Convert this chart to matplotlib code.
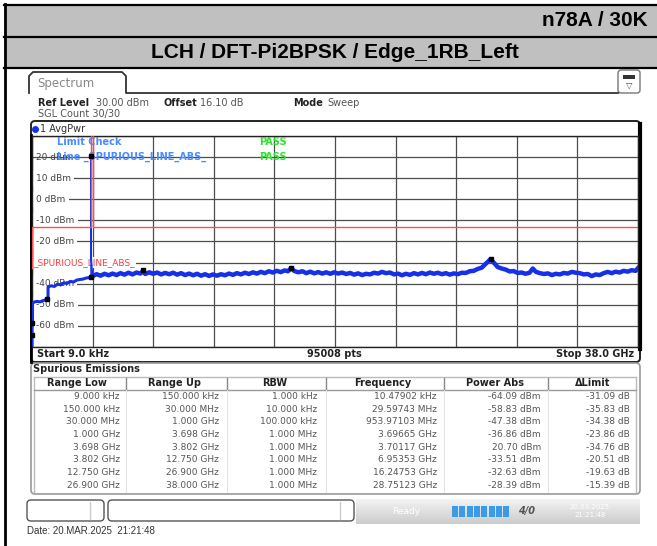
import numpy as np
import matplotlib
matplotlib.use('Agg')
import matplotlib.pyplot as plt
from matplotlib.patches import Rectangle, FancyBboxPatch
from matplotlib.transforms import blended_transform_factory

W, H = 657, 546

title_top = 'n78A / 30K'
title_sub = 'LCH / DFT-Pi2BPSK / Edge_1RB_Left'

# low band part of the trace (GHz, dBm)
low_f = [0.000009, 0.00001, 0.0001, 0.03, 0.031, 0.1, 0.3, 0.5, 0.7, 0.954, 1.0, 1.01,
         1.2, 1.4, 1.6, 1.8, 2.0, 2.2, 2.4, 2.6, 2.8, 3.0, 3.2, 3.4, 3.6, 3.697]
low_p = [-69.0, -64.1, -61.0, -58.8, -49.5, -48.8, -48.4, -48.6, -48.0, -47.4, -47.6, -41.5,
         -41.0, -41.3, -40.2, -40.6, -39.6, -39.9, -38.9, -39.2, -38.3, -38.0, -37.8, -37.3,
         -37.1, -36.9]

# carrier spike
carrier_f = [3.697, 3.701, 3.703, 3.80]
carrier_p = [-36.9, 20.7, -26.0, -36.4]

# rest of the trace, 3.8 .. 38 GHz (GHz, dBm)
band_trace = [
    (3.80, -36.4), (4.05, -35.5), (4.30, -36.2), (4.55, -35.3), (4.80, -36.0),
    (5.05, -35.2), (5.30, -35.9), (5.55, -35.0), (5.80, -35.7), (6.05, -34.8),
    (6.30, -35.6), (6.55, -34.7), (6.80, -35.2), (6.95, -34.0), (7.10, -35.4),
    (7.35, -34.6), (7.60, -35.3), (7.85, -34.7), (8.10, -35.6), (8.35, -34.9),
    (8.60, -35.5), (8.85, -34.8), (9.10, -35.7), (9.35, -35.0), (9.60, -35.9),
    (9.85, -35.2), (10.10, -36.0), (10.35, -35.3), (10.60, -36.2), (10.85, -35.5),
    (11.10, -36.3), (11.35, -35.6), (11.60, -36.2), (11.85, -35.5), (12.10, -36.0),
    (12.35, -35.2), (12.60, -35.8), (12.85, -35.0), (13.10, -35.6), (13.35, -34.8),
    (13.60, -35.4), (13.85, -34.6), (14.10, -35.2), (14.35, -34.4), (14.60, -35.0),
    (14.85, -34.1), (15.10, -34.7), (15.35, -33.9), (15.60, -34.5), (15.85, -33.7),
    (16.05, -34.1), (16.25, -32.6), (16.45, -34.0), (16.70, -34.6), (16.95, -34.1),
    (17.20, -35.0), (17.45, -34.3), (17.70, -35.1), (17.95, -34.5), (18.20, -35.2),
    (18.45, -34.6), (18.70, -35.3), (18.95, -34.6), (19.20, -35.2), (19.45, -34.7),
    (19.70, -35.4), (19.95, -34.9), (20.20, -35.7), (20.45, -35.1), (20.70, -35.9),
    (20.95, -35.3), (21.20, -35.6), (21.45, -34.8), (21.70, -35.2), (21.95, -34.4),
    (22.20, -35.0), (22.45, -34.7), (22.70, -35.6), (22.95, -35.2), (23.20, -36.0),
    (23.45, -35.3), (23.70, -35.8), (23.95, -35.0), (24.20, -35.6), (24.45, -34.9),
    (24.70, -35.5), (24.95, -34.7), (25.20, -35.3), (25.45, -34.8), (25.70, -35.5),
    (25.95, -35.0), (26.20, -35.7), (26.45, -35.1), (26.70, -35.5), (26.95, -34.8),
    (27.20, -34.9), (27.45, -34.1), (27.70, -33.9), (27.95, -33.0), (28.20, -32.4),
    (28.45, -30.6), (28.75, -28.4), (29.00, -30.4), (29.20, -32.1), (29.45, -32.8),
    (29.70, -33.3), (29.95, -34.2), (30.20, -34.0), (30.45, -34.9), (30.70, -34.7),
    (30.95, -35.3), (31.20, -34.8), (31.40, -32.8), (31.60, -34.4), (31.85, -35.0),
    (32.10, -35.4), (32.35, -35.1), (32.60, -35.9), (32.85, -35.3), (33.10, -35.6),
    (33.35, -34.9), (33.60, -35.2), (33.85, -34.4), (34.10, -34.8), (34.35, -35.0),
    (34.60, -35.6), (34.85, -35.4), (35.10, -36.4), (35.35, -35.6), (35.60, -35.9),
    (35.85, -35.0), (36.10, -34.4), (36.35, -35.0), (36.60, -34.3), (36.85, -34.7),
    (37.10, -33.9), (37.35, -34.3), (37.60, -33.6), (37.85, -33.9), (38.00, -32.6),
]

# limit line steps (GHz edges, dBm)
limit_edges = [0.000009, 0.00015, 0.03, 3.698, 3.802, 38.0]
limit_vals = [-33.0, -23.0, -13.0, 55.46, -13.0]

level_ticks = [20, 10, 0, -10, -20, -40, -50, -60]

# spurious emissions table
range_low = ['9.000 kHz', '150.000 kHz', '30.000 MHz', '1.000 GHz', '3.698 GHz',
             '3.802 GHz', '12.750 GHz', '26.900 GHz']
range_up = ['150.000 kHz', '30.000 MHz', '1.000 GHz', '3.698 GHz', '3.802 GHz',
            '12.750 GHz', '26.900 GHz', '38.000 GHz']
rbw = ['1.000 kHz', '10.000 kHz', '100.000 kHz', '1.000 MHz', '1.000 MHz',
       '1.000 MHz', '1.000 MHz', '1.000 MHz']
peak_freq = ['10.47902 kHz', '29.59743 MHz', '953.97103 MHz', '3.69665 GHz',
             '3.70117 GHz', '6.95353 GHz', '16.24753 GHz', '28.75123 GHz']
power_abs = [-64.09, -58.83, -47.38, -36.86, 20.70, -33.51, -32.63, -28.39]
delta_limit = [-31.09, -35.83, -34.38, -23.86, -34.76, -20.51, -19.63, -15.39]


def to_ghz(s):
    v, unit = s.split()
    return float(v) * {'kHz': 1e-6, 'MHz': 1e-3, 'GHz': 1.0}[unit]


fig = plt.figure(figsize=(W / 100, H / 100), dpi=100)
ov = fig.add_axes([0, 0, 1, 1])
ov.axis('off')

# header rows
ov.add_patch(Rectangle((4, 4), W, 33, fc='#c0c0c0', ec='none'))
ov.add_patch(Rectangle((4, 37), W, 31, fc='#c0c0c0', ec='none'))
for yy in (4.5, 37, 68):
    ov.plot([4, W], [yy, yy], color='k', lw=1.6)
ov.plot([4.5, 4.5], [4, H], color='k', lw=2)
ov.text(542, 21, title_top, fontsize=15, weight='bold', family='Liberation Sans',
        ha='left', va='center')
ov.text(335, 53, title_sub, fontsize=15, weight='bold', family='Liberation Sans',
        ha='center', va='center')

# spectrum tab and info
ov.plot([29, 29, 33, 122, 126, 126, 618], [93, 76, 72, 72, 76, 93, 93], color='#333', lw=1.3)
ov.text(37, 83, 'Spectrum', fontsize=8.5, color='#888', va='center')
ov.add_patch(FancyBboxPatch((618, 70), 22, 23, boxstyle='round,pad=0,rounding_size=3',
                            fc='white', ec='#777', lw=1))
ov.add_patch(Rectangle((623, 75), 12, 4, fc='#333', ec='none'))
ov.text(629, 85, '▽', fontsize=6, color='#444', ha='center', va='center')

info = dict(fontsize=7, va='center')
ov.text(38, 103, 'Ref Level', weight='bold', color='#222', **info)
ov.text(96, 103, '30.00 dBm', color='#555', **info)
ov.text(164, 103, 'Offset', weight='bold', color='#222', **info)
ov.text(200, 103, '16.10 dB', color='#555', **info)
ov.text(293, 103, 'Mode', weight='bold', color='#222', **info)
ov.text(327, 103, 'Sweep', color='#555', **info)
ov.text(38, 114, 'SGL Count 30/30', color='#555', **info)

# diagram frame
ov.add_patch(FancyBboxPatch((31, 121), 609, 241, boxstyle='round,pad=0,rounding_size=4',
                            fc='white', ec='#222', lw=1.4))
ov.plot([640, 640], [124, 349], color='k', lw=3)
ov.plot([31, 31], [135, 362], color='k', lw=2)
ov.plot([35], [129], 'o', color='#1530e8', ms=4)
ov.text(40, 129, '1 AvgPwr', fontsize=7, color='#333', va='center')
bar = dict(fontsize=7, weight='bold', color='#222', va='center')
ov.text(37, 354, 'Start 9.0 kHz', ha='left', **bar)
ov.text(334, 354, '95008 pts', ha='center', **bar)
ov.text(634, 354, 'Stop 38.0 GHz', ha='right', **bar)

# spurious emissions table
ov.add_patch(FancyBboxPatch((31, 363), 609, 131, boxstyle='round,pad=0,rounding_size=4',
                            fc='white', ec='#999', lw=1.2))
ov.text(33, 369, 'Spurious Emissions', fontsize=7, weight='bold', color='#222', va='center')
ov.plot([34, 34], [377, 492], color='#bbb', lw=1)
ov.plot([636, 636], [377, 492], color='#bbb', lw=1)
ov.plot([34, 636], [377, 377], color='#bbb', lw=1)
ov.plot([34, 636], [390, 390], color='#999', lw=1)

headers = ['Range Low', 'Range Up', 'RBW', 'Frequency', 'Power Abs', 'ΔLimit']
head_x = [77, 175, 275, 383, 495, 593]
seps = [126, 227, 326, 444, 548]
right_x = [120, 219, 317, 437, 541, 630]
for hx, name in zip(head_x, headers):
    ov.text(hx, 383.5, name, fontsize=7, weight='bold', color='#222', ha='center', va='center')
for sx in seps:
    ov.plot([sx, sx], [378, 390], color='#888', lw=1)
    ov.plot([sx, sx], [390, 492], color='#e4e4e4', lw=0.8)

cols = [range_low, range_up, rbw, peak_freq,
        [f'{p:.2f} dBm' for p in power_abs], [f'{d:.2f} dB' for d in delta_limit]]
for i in range(len(range_low)):
    yy = 396.5 + 12.7 * i
    for rx, col in zip(right_x, cols):
        ov.text(rx, yy, col[i], fontsize=6.5, color='#555', ha='right', va='center')

# status bar
ov.add_patch(FancyBboxPatch((27, 500), 77, 21, boxstyle='round,pad=0,rounding_size=4',
                            fc='white', ec='#555', lw=1))
ov.plot([90, 90], [502, 519], color='#ccc', lw=1)
ov.add_patch(FancyBboxPatch((108, 500), 246, 21, boxstyle='round,pad=0,rounding_size=4',
                            fc='white', ec='#555', lw=1))
ov.plot([340, 340], [502, 519], color='#ccc', lw=1)
grad = np.linspace(0.80, 0.95, 30).reshape(-1, 1)
ov.imshow(grad, cmap='gray', vmin=0, vmax=1, extent=(356, 640, 499, 524), aspect='auto')
ov.text(392, 511, 'Ready', fontsize=6.5, color='white', va='center')
for k in range(8):
    ov.add_patch(Rectangle((452 + k * 7.3, 506), 6, 11, fc='#3a9be8', ec='none'))
ov.text(527, 511, '4/0', fontsize=7, weight='bold', style='italic', color='#555',
        ha='center', va='center')
ov.text(590, 507, '20.03.2025', fontsize=5, color='white', ha='center', va='center')
ov.text(590, 515, '21:21:48', fontsize=5, color='white', ha='center', va='center')

ov.text(27, 531, 'Date: 20.MAR.2025  21:21:48', fontsize=7, family='Liberation Sans',
        color='#333', va='center')
ov.set_xlim(0, W)
ov.set_ylim(H, 0)

# spectrum axes
ax = fig.add_axes([32 / W, 1 - 347 / H, 606 / W, 211 / H])
ax.set_xlim(0, 38)
ax.set_ylim(-70, 30)
ax.set_xticks(np.linspace(0, 38, 11))
ax.set_yticks(np.arange(-70, 31, 10))
ax.tick_params(length=0, labelbottom=False, labelleft=False)
ax.grid(True, color='#4d4d4d', lw=0.9)
ax.set_axisbelow(True)
for sp in ax.spines.values():
    sp.set_color('#222')
    sp.set_linewidth(1)

tr = blended_transform_factory(ax.transAxes, ax.transData)
for v in level_ticks:
    ax.text(0.007, v, f'{v} dBm', transform=tr, fontsize=6.5, color='#444', va='center',
            zorder=2.5, bbox=dict(fc='white', ec='none', pad=2.2) if v != 20 else None)
ax.text(0.002, -30, '_SPURIOUS_LINE_ABS_', transform=tr, fontsize=6.5, color='#ff3b3b',
        va='center', zorder=2.5, bbox=dict(fc='white', ec='none', pad=0.8))
ax.text(0.041, 27.2, 'Limit Check', transform=tr, fontsize=7, weight='bold',
        color='#4a8cff', va='center')
ax.text(0.041, 20, 'Line _SPURIOUS_LINE_ABS_', transform=tr, fontsize=7, weight='bold',
        color='#4a8cff', va='center', zorder=4)
ax.text(0.375, 27.2, 'PASS', transform=tr, fontsize=7, weight='bold', color='#2ee02e',
        va='center')
ax.text(0.375, 20, 'PASS', transform=tr, fontsize=7, weight='bold', color='#2ee02e',
        va='center', zorder=4)

band_f, band_p = zip(*band_trace)
ax.plot(low_f, low_p, color='#1530e8', lw=2.2, zorder=3)
ax.plot(carrier_f, carrier_p, color='#1530e8', lw=1.0, zorder=3)
ax.plot(band_f, band_p, color='#1530e8', lw=3.2, zorder=3, solid_joinstyle='round')
ax.stairs(limit_vals, limit_edges, baseline=None, color='#ff4d4d', lw=1, zorder=4)
ax.plot([to_ghz(s) for s in peak_freq], power_abs, 's', color='k', ms=2.5, zorder=5)

fig.savefig('out.png', dpi=100)
